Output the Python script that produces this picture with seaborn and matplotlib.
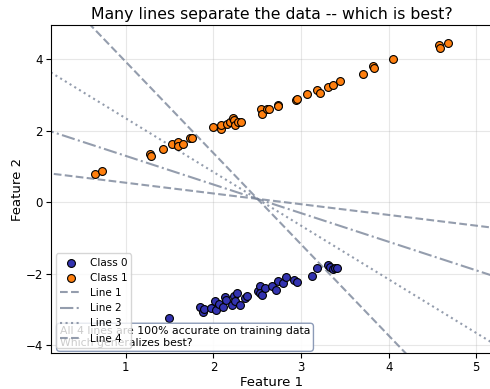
import numpy as np
import pandas as pd
import matplotlib
matplotlib.use("Agg")
import matplotlib.pyplot as plt
import seaborn as sns

# Class 0 points
class0_x = [1.494, 1.845, 1.882, 1.89, 1.967, 2.016, 2.035, 2.065, 2.104, 2.130,
            2.142, 2.207, 2.236, 2.244, 2.271, 2.301, 2.358, 2.385, 2.510, 2.530,
            2.530, 2.549, 2.587, 2.663, 2.720, 2.739, 2.796, 2.826, 2.918, 2.949,
            3.120, 3.188, 3.309, 3.33, 3.36, 3.386, 3.405]
class0_y = [-3.23, -2.93, -3.06, -2.99, -2.96, -2.78, -3.01, -2.84, -2.92, -2.65,
            -2.75, -2.87, -2.64, -2.78, -2.54, -2.87, -2.68, -2.64, -2.50, -2.34,
            -2.54, -2.59, -2.40, -2.36, -2.45, -2.22, -2.25, -2.09, -2.17, -2.23,
            -2.06, -1.84, -1.75, -1.82, -1.87, -1.84, -1.85]

# Class 1 points
class1_x = [0.646, 0.729, 1.274, 1.293, 1.426, 1.522, 1.597, 1.597, 1.654, 1.731,
            1.761, 1.990, 2.081, 2.092, 2.150, 2.187, 2.218, 2.236, 2.244, 2.282,
            2.313, 2.541, 2.549, 2.606, 2.632, 2.739, 2.739, 2.937, 2.949, 3.070,
            3.188, 3.215, 3.309, 3.360, 3.443, 3.709, 3.816, 3.834, 4.051, 4.576,
            4.584, 4.679]
class1_y = [0.78, 0.87, 1.35, 1.29, 1.48, 1.62, 1.69, 1.58, 1.63, 1.78,
            1.79, 2.09, 2.05, 2.16, 2.19, 2.25, 2.34, 2.30, 2.16, 2.23,
            2.24, 2.61, 2.47, 2.60, 2.60, 2.72, 2.69, 2.86, 2.89, 3.03,
            3.13, 3.06, 3.22, 3.28, 3.39, 3.58, 3.79, 3.74, 3.99, 4.39,
            4.32, 4.46]

# Candidate separating lines: y = slope * x + intercept
line_labels = ["Line 1", "Line 2", "Line 3", "Line 4"]
line_slopes = [-0.30, -0.80, -1.50, -2.55]
line_intercepts = [0.84, 2.09, 3.84, 6.47]
line_styles = ["--", "-.", ":", "--"]

xlim = (0.146, 5.18)
ylim = (-4.22, 4.95)

fig = plt.figure(figsize=(4.9, 3.89), dpi=100)
ax = fig.add_axes([51/490, (389-353)/389, (492-51)/490, (353-25)/389])

df0 = pd.DataFrame({"x": class0_x, "y": class0_y})
df1 = pd.DataFrame({"x": class1_x, "y": class1_y})
sns.scatterplot(data=df0, x="x", y="y", ax=ax, color="#3333b0", edgecolor="black",
                linewidth=0.8, s=32, label="Class 0", zorder=3)
sns.scatterplot(data=df1, x="x", y="y", ax=ax, color="#ff7f0e", edgecolor="black",
                linewidth=0.8, s=32, label="Class 1", zorder=3)

for lab, m, b, ls in zip(line_labels, line_slopes, line_intercepts, line_styles):
    xs = np.array([xlim[0] - 1, xlim[1] + 1])
    ld = pd.DataFrame({"x": xs, "y": m * xs + b})
    sns.lineplot(data=ld, x="x", y="y", ax=ax, color="#7a8599", alpha=0.8,
                 linestyle=ls, linewidth=1.5, label=lab, zorder=2)

ax.set_xlim(*xlim)
ax.set_ylim(*ylim)
ax.set_xticks([1, 2, 3, 4, 5])
ax.set_yticks([-4, -2, 0, 2, 4])
ax.grid(True, alpha=0.3)
ax.set_axisbelow(True)
ax.tick_params(labelsize=8.5, pad=2.5)
ax.set_xlabel("Feature 1", fontsize=9.5, labelpad=1)
ax.set_ylabel("Feature 2", fontsize=9.5, labelpad=1)
ax.set_title("Many lines separate the data -- which is best?", fontsize=11.3, pad=4)

ax.text(0.02, 0.015, "All 4 lines are 100% accurate on training data\nWhich generalizes best?",
        transform=ax.transAxes, fontsize=7.8, ha="left", va="bottom",
        bbox=dict(boxstyle="round,pad=0.3", facecolor="white", edgecolor="#8090b0", alpha=0.9))

ax.legend(loc="lower left", fontsize=7.5, framealpha=0.8, borderaxespad=0.5)

fig.savefig("out.png", dpi=100)
